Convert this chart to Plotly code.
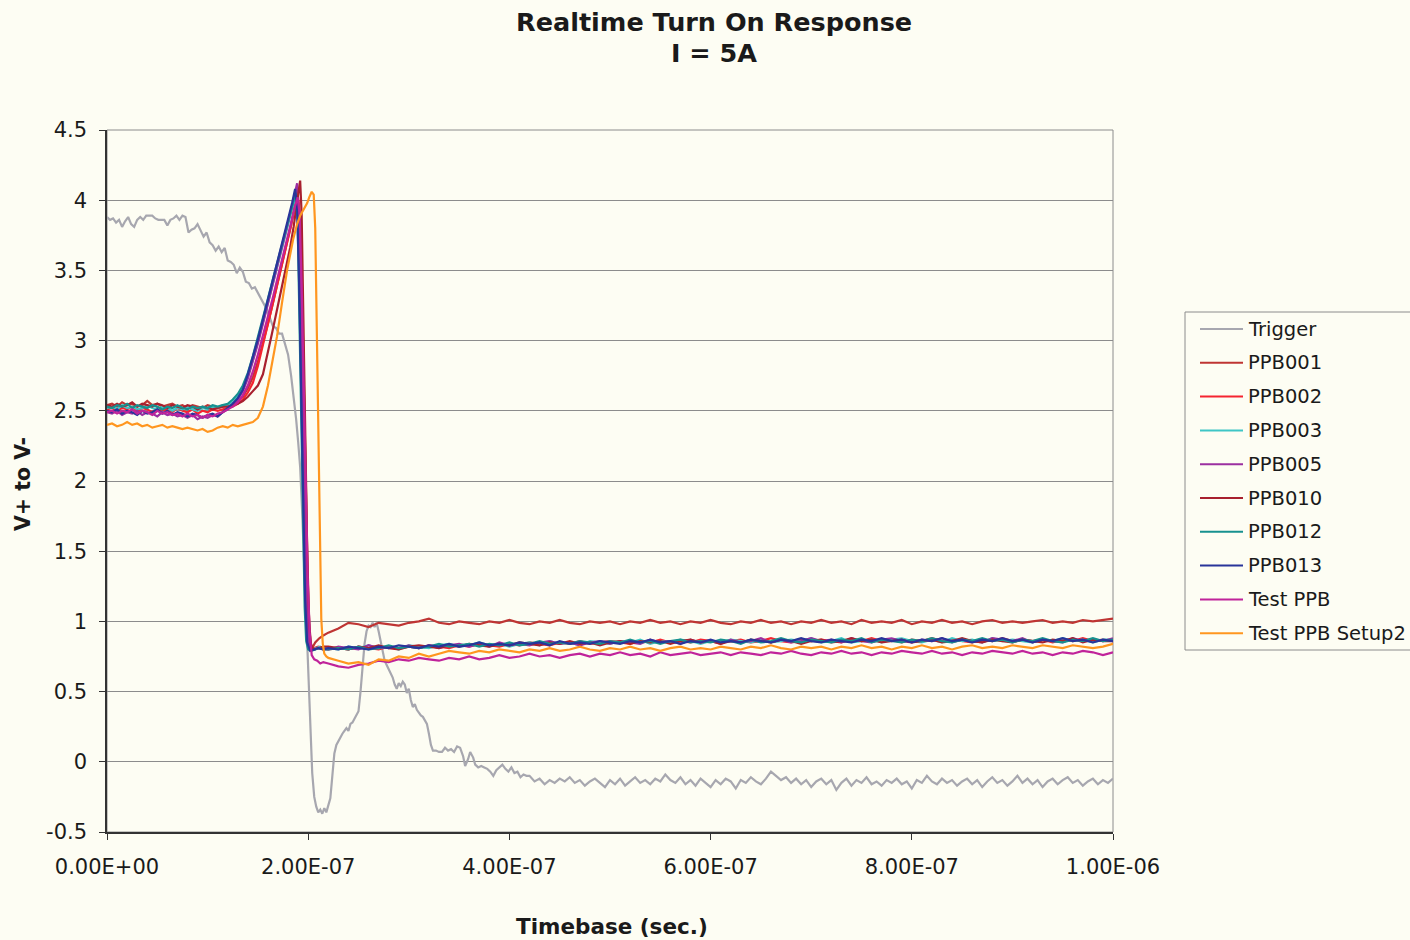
import plotly.graph_objects as go

# ---------------- data (time in ns, voltage in V) ----------------
# common sampling grids
t_base = list(range(0, 121, 5))          # flat level before turn-on
t_tail = list(range(220, 1001, 10))      # settled level after turn-on

# Trigger channel
trigger_t = [0, 3, 6, 9, 12, 15, 18, 21, 24, 27, 30, 33, 36, 39, 42, 45, 48, 51, 54, 57,
             60, 63, 66, 69, 72, 75, 78, 81, 84, 87, 90, 93, 96, 99, 102, 105, 108, 111, 114, 117,
             120, 123, 126, 129, 132, 135, 138, 141, 144, 147, 150, 153, 156, 159, 162, 165, 168, 171, 174, 177,
             180, 183, 186, 188, 190, 192, 194, 196, 198, 200, 202, 204, 206, 208, 210, 212, 214, 216, 218, 220,
             222, 224, 226, 228, 230, 232, 234, 236, 238, 240, 242, 244, 246, 248, 250, 252, 254, 256, 258, 260,
             262, 264, 266, 268, 270, 272, 274, 276, 278, 280, 282, 284, 286, 288, 290, 292, 294, 296, 298, 300,
             302, 304, 306, 308, 310, 312, 314, 316, 318, 320, 322, 324, 327, 330, 333, 336, 339, 342, 345, 348,
             351, 354, 356, 359, 361, 364, 366, 369, 372, 375, 378, 381, 384, 387, 390, 393, 396, 399, 402, 405,
             408, 411, 414, 417]
trigger_v = [3.88, 3.86, 3.87, 3.84, 3.86, 3.81, 3.85, 3.88, 3.83, 3.81, 3.86, 3.88, 3.86, 3.89, 3.89, 3.89, 3.87, 3.86, 3.86, 3.86,
             3.82, 3.86, 3.87, 3.89, 3.86, 3.89, 3.88, 3.77, 3.79, 3.80, 3.83, 3.79, 3.74, 3.77, 3.70, 3.68, 3.64, 3.67, 3.63, 3.66,
             3.57, 3.56, 3.54, 3.48, 3.52, 3.49, 3.42, 3.41, 3.37, 3.38, 3.34, 3.31, 3.27, 3.22, 3.16, 3.10, 3.09, 3.05, 3.05, 2.98,
             2.90, 2.75, 2.58, 2.44, 2.28, 2.10, 1.78, 1.40, 1.00, 0.62, 0.25, -0.08, -0.25, -0.32, -0.36, -0.34, -0.37, -0.33, -0.36, -0.31,
             -0.26, -0.10, 0.06, 0.12, 0.15, 0.17, 0.20, 0.22, 0.24, 0.22, 0.27, 0.28, 0.31, 0.34, 0.36, 0.50, 0.70, 0.84, 0.93, 0.97,
             0.96, 0.99, 0.96, 0.99, 0.93, 0.86, 0.78, 0.72, 0.69, 0.66, 0.62, 0.60, 0.55, 0.52, 0.56, 0.54, 0.57, 0.55, 0.49, 0.52,
             0.44, 0.39, 0.41, 0.37, 0.35, 0.33, 0.32, 0.29, 0.27, 0.20, 0.12, 0.08, 0.08, 0.07, 0.07, 0.10, 0.08, 0.09, 0.07, 0.11,
             0.10, 0.04, -0.03, 0.02, 0.07, 0.03, -0.02, -0.04, -0.03, -0.04, -0.05, -0.07, -0.10, -0.06, -0.04, -0.02, -0.05, -0.07, -0.04, -0.08,
             -0.07, -0.11, -0.09, -0.10]
trigger_tail_t = list(range(420, 1001, 5))
trigger_tail_v = [-0.10, -0.14, -0.12, -0.16, -0.13, -0.15, -0.12, -0.14, -0.11, -0.15, -0.13, -0.17,
                  -0.14, -0.12, -0.15, -0.18, -0.13, -0.16, -0.12, -0.17, -0.14, -0.11, -0.15, -0.13,
                  -0.16, -0.12, -0.14, -0.09, -0.13, -0.15, -0.11, -0.16, -0.13, -0.17, -0.12, -0.15,
                  -0.18, -0.13, -0.16, -0.12, -0.14, -0.19, -0.13, -0.15, -0.11, -0.14, -0.16, -0.12,
                  -0.07, -0.10, -0.13, -0.11, -0.15, -0.12, -0.16, -0.13, -0.18, -0.14, -0.12, -0.16,
                  -0.13, -0.20, -0.15, -0.12, -0.17, -0.13, -0.15, -0.11, -0.16, -0.14, -0.17, -0.13,
                  -0.15, -0.12, -0.16, -0.14, -0.19, -0.13, -0.15, -0.10, -0.14, -0.16, -0.12, -0.15,
                  -0.13, -0.17, -0.14, -0.12, -0.16, -0.13, -0.18, -0.14, -0.11, -0.15, -0.13, -0.17,
                  -0.14, -0.10, -0.15, -0.12, -0.16, -0.13, -0.18, -0.14, -0.12, -0.16, -0.13, -0.11,
                  -0.15, -0.13, -0.17, -0.14, -0.12, -0.16, -0.13, -0.15, -0.12]

# PPB001
ppb001_base = [2.54, 2.55, 2.53, 2.56, 2.54, 2.55, 2.53, 2.54, 2.57, 2.54, 2.55, 2.53, 2.54,
               2.55, 2.53, 2.54, 2.52, 2.54, 2.53, 2.52, 2.54, 2.53, 2.52, 2.53, 2.54]
ppb001_edge_t = [125, 130, 135, 140, 145, 150, 155, 160, 165, 170, 175, 180, 184, 187, 190, 192,
                 194, 196, 198, 200, 202, 204, 207, 211, 215]
ppb001_edge_v = [2.55, 2.57, 2.60, 2.66, 2.74, 2.85, 2.98, 3.12, 3.27, 3.42, 3.57, 3.74, 3.86, 3.95, 4.00, 3.85,
                 3.30, 2.55, 1.80, 1.15, 0.86, 0.81, 0.85, 0.88, 0.90]
ppb001_tail = [0.92, 0.95, 0.99, 0.98, 0.96, 0.99, 0.98, 0.97, 0.99, 1.00,
               1.02, 0.99, 0.98, 1.00, 0.99, 0.98, 1.00, 0.99, 1.01, 0.99,
               0.98, 1.00, 0.99, 1.01, 0.99, 0.98, 1.00, 0.99, 1.00, 0.98,
               1.00, 0.99, 1.01, 0.99, 1.00, 0.98, 1.00, 0.99, 1.01, 0.99,
               0.98, 1.00, 0.99, 1.01, 0.99, 1.00, 0.98, 1.00, 0.99, 1.01,
               0.99, 1.00, 0.98, 1.01, 0.99, 1.00, 0.99, 1.01, 0.98, 1.00,
               0.99, 1.01, 0.99, 1.00, 0.98, 1.00, 1.01, 0.99, 1.00, 0.99,
               1.00, 1.01, 0.99, 1.00, 0.99, 1.01, 1.00, 1.01, 1.02]

# PPB002
ppb002_base = [2.51, 2.52, 2.50, 2.52, 2.51, 2.53, 2.50, 2.52, 2.51, 2.49, 2.52, 2.50, 2.51,
               2.49, 2.52, 2.50, 2.49, 2.51, 2.48, 2.50, 2.49, 2.51, 2.50, 2.51, 2.52]
ppb002_edge_t = [125, 130, 135, 140, 145, 150, 155, 160, 165, 170, 175, 180, 183, 186, 189, 191,
                 193, 195, 197, 199, 201, 203, 206, 210, 215]
ppb002_edge_v = [2.53, 2.55, 2.58, 2.63, 2.70, 2.82, 2.98, 3.12, 3.27, 3.42, 3.57, 3.72, 3.82, 3.95, 4.08, 3.95,
                 3.40, 2.65, 1.85, 1.20, 0.86, 0.80, 0.81, 0.82, 0.81]
ppb002_tail = [0.80, 0.81, 0.80, 0.82, 0.81, 0.80, 0.82, 0.81, 0.82, 0.81,
               0.83, 0.82, 0.81, 0.83, 0.82, 0.84, 0.83, 0.82, 0.84, 0.83,
               0.85, 0.84, 0.83, 0.85, 0.84, 0.86, 0.84, 0.85, 0.86, 0.85,
               0.84, 0.86, 0.85, 0.87, 0.85, 0.86, 0.85, 0.87, 0.86, 0.85,
               0.86, 0.87, 0.85, 0.86, 0.88, 0.86, 0.85, 0.87, 0.86, 0.87,
               0.86, 0.85, 0.87, 0.86, 0.88, 0.86, 0.87, 0.85, 0.87, 0.86,
               0.88, 0.86, 0.87, 0.86, 0.85, 0.87, 0.86, 0.88, 0.86, 0.87,
               0.86, 0.87, 0.85, 0.87, 0.86, 0.88, 0.86, 0.87, 0.86]

# PPB003
ppb003_base = [2.52, 2.53, 2.51, 2.54, 2.52, 2.53, 2.51, 2.52, 2.54, 2.52, 2.51, 2.53, 2.52,
               2.50, 2.52, 2.51, 2.53, 2.51, 2.50, 2.52, 2.51, 2.53, 2.52, 2.54, 2.54]
ppb003_edge_t = [125, 130, 135, 140, 145, 150, 155, 160, 165, 170, 175, 180, 184, 188, 190, 192,
                 194, 196, 197.5, 199, 201, 204, 208, 212, 215]
ppb003_edge_v = [2.56, 2.60, 2.66, 2.75, 2.86, 2.99, 3.13, 3.27, 3.41, 3.55, 3.69, 3.83, 3.94, 4.03, 3.90, 3.30,
                 2.50, 1.70, 1.15, 0.88, 0.81, 0.80, 0.81, 0.82, 0.81]
ppb003_tail = [0.81, 0.80, 0.82, 0.81, 0.83, 0.81, 0.82, 0.80, 0.83, 0.82,
               0.81, 0.83, 0.84, 0.82, 0.83, 0.85, 0.83, 0.84, 0.82, 0.84,
               0.85, 0.83, 0.86, 0.84, 0.85, 0.83, 0.86, 0.85, 0.84, 0.86,
               0.85, 0.87, 0.84, 0.86, 0.85, 0.87, 0.86, 0.84, 0.86, 0.85,
               0.87, 0.86, 0.85, 0.87, 0.85, 0.86, 0.87, 0.86, 0.88, 0.85,
               0.86, 0.88, 0.85, 0.86, 0.87, 0.85, 0.87, 0.88, 0.86, 0.85,
               0.87, 0.85, 0.88, 0.86, 0.87, 0.85, 0.88, 0.86, 0.87, 0.86,
               0.85, 0.87, 0.86, 0.88, 0.86, 0.87, 0.85, 0.87, 0.87]

# PPB005
ppb005_base = [2.49, 2.48, 2.50, 2.47, 2.49, 2.48, 2.50, 2.47, 2.49, 2.48, 2.46, 2.49, 2.47,
               2.48, 2.46, 2.47, 2.45, 2.47, 2.44, 2.46, 2.45, 2.47, 2.46, 2.49, 2.51]
ppb005_edge_t = [125, 130, 135, 140, 145, 150, 155, 160, 165, 170, 175, 180, 184, 187, 189, 191,
                 193, 195, 197, 199, 201, 203, 206, 210, 215]
ppb005_edge_v = [2.55, 2.58, 2.64, 2.73, 2.85, 2.98, 3.12, 3.26, 3.40, 3.55, 3.69, 3.84, 3.96, 4.06, 4.12, 3.85,
                 3.10, 2.25, 1.50, 1.00, 0.84, 0.80, 0.80, 0.81, 0.80]
ppb005_tail = [0.80, 0.82, 0.81, 0.80, 0.83, 0.81, 0.82, 0.81, 0.83, 0.81,
               0.83, 0.81, 0.83, 0.84, 0.82, 0.84, 0.82, 0.85, 0.83, 0.84,
               0.83, 0.85, 0.86, 0.84, 0.85, 0.83, 0.85, 0.86, 0.84, 0.86,
               0.85, 0.84, 0.87, 0.85, 0.86, 0.84, 0.87, 0.85, 0.86, 0.84,
               0.87, 0.85, 0.86, 0.88, 0.85, 0.87, 0.85, 0.86, 0.88, 0.86,
               0.87, 0.85, 0.88, 0.86, 0.85, 0.87, 0.88, 0.86, 0.85, 0.87,
               0.86, 0.88, 0.85, 0.87, 0.86, 0.85, 0.88, 0.87, 0.86, 0.88,
               0.85, 0.87, 0.86, 0.85, 0.88, 0.86, 0.87, 0.86, 0.88]

# PPB010
ppb010_base = [2.54, 2.53, 2.55, 2.53, 2.54, 2.56, 2.53, 2.55, 2.54, 2.53, 2.55, 2.54, 2.52,
               2.54, 2.53, 2.52, 2.54, 2.53, 2.51, 2.53, 2.52, 2.51, 2.52, 2.53, 2.53]
ppb010_edge_t = [125, 130, 135, 140, 145, 150, 155, 159, 164, 169, 174, 179, 182, 185.5, 188, 190.5,
                 192, 193.5, 195, 197, 199, 201, 203, 206, 210, 215]
ppb010_edge_v = [2.54, 2.55, 2.57, 2.60, 2.64, 2.68, 2.76, 2.88, 3.05, 3.22, 3.39, 3.55, 3.66, 3.81, 3.95, 4.07,
                 4.14, 3.90, 3.20, 2.30, 1.50, 0.98, 0.82, 0.80, 0.81, 0.82]
ppb010_tail = [0.82, 0.81, 0.80, 0.82, 0.81, 0.83, 0.81, 0.80, 0.82, 0.83,
               0.82, 0.81, 0.83, 0.82, 0.84, 0.83, 0.82, 0.84, 0.83, 0.85,
               0.84, 0.83, 0.85, 0.84, 0.86, 0.84, 0.85, 0.83, 0.85, 0.86,
               0.84, 0.86, 0.85, 0.86, 0.84, 0.86, 0.87, 0.85, 0.86, 0.84,
               0.86, 0.85, 0.87, 0.86, 0.85, 0.87, 0.86, 0.84, 0.86, 0.87,
               0.85, 0.86, 0.88, 0.86, 0.87, 0.85, 0.86, 0.87, 0.85, 0.86,
               0.87, 0.85, 0.86, 0.88, 0.86, 0.85, 0.87, 0.86, 0.85, 0.87,
               0.86, 0.85, 0.87, 0.86, 0.88, 0.85, 0.87, 0.86, 0.86]

# PPB012
ppb012_base = [2.53, 2.52, 2.54, 2.53, 2.55, 2.52, 2.54, 2.53, 2.52, 2.54, 2.53, 2.51, 2.53,
               2.52, 2.54, 2.52, 2.51, 2.53, 2.52, 2.53, 2.52, 2.54, 2.53, 2.54, 2.55]
ppb012_edge_t = [125, 130, 135, 140, 145, 150, 155, 160, 165, 170, 175, 180, 184, 187.5, 189.5, 191.5,
                 193.5, 195, 196.5, 198, 200, 203, 207, 211, 215]
ppb012_edge_v = [2.58, 2.62, 2.68, 2.77, 2.89, 3.02, 3.16, 3.30, 3.44, 3.58, 3.72, 3.86, 3.96, 4.05, 3.85, 3.15,
                 2.35, 1.70, 1.10, 0.86, 0.80, 0.79, 0.80, 0.81, 0.80]
ppb012_tail = [0.80, 0.81, 0.80, 0.82, 0.80, 0.81, 0.83, 0.81, 0.82, 0.81,
               0.82, 0.84, 0.82, 0.83, 0.84, 0.82, 0.84, 0.83, 0.85, 0.83,
               0.84, 0.86, 0.84, 0.85, 0.84, 0.86, 0.85, 0.84, 0.86, 0.85,
               0.87, 0.85, 0.86, 0.84, 0.86, 0.87, 0.85, 0.86, 0.85, 0.87,
               0.86, 0.84, 0.87, 0.85, 0.86, 0.88, 0.86, 0.85, 0.87, 0.86,
               0.85, 0.87, 0.86, 0.88, 0.85, 0.87, 0.86, 0.85, 0.87, 0.86,
               0.88, 0.86, 0.85, 0.87, 0.86, 0.88, 0.86, 0.87, 0.85, 0.87,
               0.86, 0.88, 0.86, 0.85, 0.87, 0.86, 0.88, 0.86, 0.87]

# PPB013
ppb013_base = [2.50, 2.49, 2.51, 2.48, 2.50, 2.49, 2.47, 2.50, 2.48, 2.49, 2.51, 2.48, 2.50,
               2.47, 2.49, 2.48, 2.46, 2.48, 2.47, 2.45, 2.47, 2.48, 2.46, 2.49, 2.52]
ppb013_edge_t = [125, 130, 135, 140, 145, 150, 155, 160, 165, 170, 175, 180, 184, 187, 189, 191,
                 193, 195, 197, 199, 202, 206, 210, 215]
ppb013_edge_v = [2.55, 2.59, 2.65, 2.76, 2.88, 3.01, 3.15, 3.29, 3.43, 3.58, 3.72, 3.87, 3.98, 4.08, 3.95, 3.40,
                 2.60, 1.80, 1.15, 0.85, 0.79, 0.80, 0.81, 0.80]
ppb013_tail = [0.81, 0.80, 0.82, 0.81, 0.80, 0.82, 0.81, 0.83, 0.82, 0.81,
               0.83, 0.82, 0.84, 0.82, 0.83, 0.85, 0.83, 0.84, 0.83, 0.85,
               0.84, 0.85, 0.83, 0.86, 0.84, 0.85, 0.84, 0.86, 0.85, 0.84,
               0.86, 0.85, 0.87, 0.85, 0.86, 0.84, 0.86, 0.85, 0.87, 0.85,
               0.86, 0.85, 0.87, 0.86, 0.85, 0.87, 0.86, 0.88, 0.86, 0.85,
               0.87, 0.86, 0.85, 0.87, 0.86, 0.88, 0.86, 0.87, 0.85, 0.87,
               0.86, 0.88, 0.86, 0.87, 0.85, 0.87, 0.86, 0.88, 0.86, 0.87,
               0.85, 0.87, 0.86, 0.88, 0.86, 0.87, 0.85, 0.87, 0.86]

# Test PPB
test_base = [2.49, 2.50, 2.48, 2.50, 2.49, 2.51, 2.48, 2.50, 2.49, 2.47, 2.50, 2.48, 2.49,
             2.47, 2.48, 2.46, 2.48, 2.46, 2.47, 2.45, 2.47, 2.46, 2.48, 2.49, 2.51]
test_edge_t = [125, 130, 135, 140, 145, 150, 155, 160, 165, 170, 175, 180, 184, 187, 189.5, 191.5,
               193.5, 195.5, 197.5, 199.5, 201.5, 203.5, 206, 209, 212, 215]
test_edge_v = [2.53, 2.56, 2.61, 2.68, 2.78, 2.90, 3.03, 3.17, 3.31, 3.46, 3.60, 3.75, 3.87, 3.96, 4.02, 3.90,
               3.40, 2.70, 1.95, 1.30, 0.92, 0.76, 0.73, 0.72, 0.70, 0.71]
test_tail = [0.70, 0.68, 0.67, 0.69, 0.70, 0.72, 0.71, 0.73, 0.72, 0.74,
             0.73, 0.72, 0.74, 0.73, 0.75, 0.73, 0.74, 0.76, 0.74, 0.75,
             0.77, 0.75, 0.76, 0.74, 0.76, 0.77, 0.75, 0.77, 0.76, 0.78,
             0.76, 0.77, 0.75, 0.78, 0.76, 0.77, 0.78, 0.76, 0.77, 0.78,
             0.76, 0.78, 0.77, 0.76, 0.78, 0.77, 0.79, 0.77, 0.76, 0.78,
             0.77, 0.79, 0.77, 0.78, 0.76, 0.78, 0.77, 0.79, 0.78, 0.77,
             0.79, 0.77, 0.78, 0.76, 0.78, 0.77, 0.79, 0.78, 0.77, 0.79,
             0.77, 0.78, 0.76, 0.78, 0.77, 0.79, 0.78, 0.76, 0.78]

# Test PPB Setup2
setup2_base_t = list(range(0, 146, 5))
setup2_base = [2.40, 2.41, 2.39, 2.40, 2.42, 2.40, 2.41, 2.39, 2.40, 2.38, 2.39, 2.40, 2.38, 2.39, 2.38,
               2.37, 2.38, 2.37, 2.36, 2.37, 2.35, 2.36, 2.38, 2.39, 2.38, 2.40, 2.39, 2.40, 2.41, 2.42]
setup2_edge_t = [150, 155, 160, 165, 169, 174, 179, 185, 189, 192, 196, 199, 201, 203.5, 205.5, 207,
                 208.5, 210, 211.5, 213, 214.5, 216, 218]
setup2_edge_v = [2.45, 2.53, 2.68, 2.86, 3.03, 3.27, 3.50, 3.72, 3.83, 3.89, 3.94, 3.98, 4.02, 4.06, 4.04, 3.80,
                 3.10, 2.30, 1.55, 1.02, 0.84, 0.77, 0.75]
setup2_tail = [0.74, 0.72, 0.70, 0.71, 0.69, 0.73, 0.72, 0.75, 0.74, 0.77,
               0.75, 0.77, 0.79, 0.78, 0.77, 0.79, 0.78, 0.80, 0.79, 0.78,
               0.80, 0.79, 0.81, 0.79, 0.80, 0.82, 0.80, 0.79, 0.81, 0.80,
               0.82, 0.80, 0.81, 0.79, 0.81, 0.82, 0.80, 0.81, 0.80, 0.82,
               0.81, 0.80, 0.82, 0.81, 0.83, 0.81, 0.80, 0.82, 0.81, 0.82,
               0.80, 0.82, 0.81, 0.83, 0.81, 0.82, 0.80, 0.82, 0.81, 0.83,
               0.81, 0.82, 0.80, 0.82, 0.83, 0.81, 0.82, 0.81, 0.83, 0.82,
               0.81, 0.83, 0.82, 0.81, 0.83, 0.82, 0.81, 0.82, 0.84]

x_tick_vals = [0, 200, 400, 600, 800, 1000]
x_tick_text = ["0.00E+00", "2.00E-07", "4.00E-07", "6.00E-07", "8.00E-07", "1.00E-06"]
y_tick_vals = [-0.5, 0, 0.5, 1, 1.5, 2, 2.5, 3, 3.5, 4, 4.5]
y_tick_text = ["-0.5", "0", "0.5", "1", "1.5", "2", "2.5", "3", "3.5", "4", "4.5"]

# ---------------- assemble traces ----------------
series = [
    ("Trigger", "#A7A7AF", trigger_t + trigger_tail_t, trigger_v + trigger_tail_v),
    ("PPB001", "#BF3533", t_base + ppb001_edge_t + t_tail, ppb001_base + ppb001_edge_v + ppb001_tail),
    ("PPB002", "#F52430", t_base + ppb002_edge_t + t_tail, ppb002_base + ppb002_edge_v + ppb002_tail),
    ("PPB003", "#3EC6C6", t_base + ppb003_edge_t + t_tail, ppb003_base + ppb003_edge_v + ppb003_tail),
    ("PPB005", "#9B2FA0", t_base + ppb005_edge_t + t_tail, ppb005_base + ppb005_edge_v + ppb005_tail),
    ("PPB010", "#A8202E", t_base + ppb010_edge_t + t_tail, ppb010_base + ppb010_edge_v + ppb010_tail),
    ("PPB012", "#17918F", t_base + ppb012_edge_t + t_tail, ppb012_base + ppb012_edge_v + ppb012_tail),
    ("PPB013", "#29349A", t_base + ppb013_edge_t + t_tail, ppb013_base + ppb013_edge_v + ppb013_tail),
    ("Test PPB", "#C0239A", t_base + test_edge_t + t_tail, test_base + test_edge_v + test_tail),
    ("Test PPB Setup2", "#FF961F", setup2_base_t + setup2_edge_t + t_tail, setup2_base + setup2_edge_v + setup2_tail),
]

BG = "#FDFDF3"
FONT = "DejaVu Sans"
TEXT = "#1a1a1a"

# plot area in page pixels: x 107..1113, y 130..832
L, R, T, B = 107, 1113, 130, 832


def px_x(px):
    return (px - L) / (R - L)


def px_y(py):
    return (B - py) / (B - T)


fig = go.Figure()
for name, color, t_ns, v in series:
    assert len(t_ns) == len(v), name
    fig.add_trace(go.Scatter(
        x=[t * 1e-9 for t in t_ns], y=v, name=name,
        mode="lines", line=dict(color=color, width=2.2), showlegend=False,
    ))

# legend box drawn as shapes + labels
shapes = [
    dict(type="rect", xref="paper", yref="paper", x0=0, x1=1, y0=0, y1=1,
         line=dict(color="#8c8c8c", width=1), layer="below"),
    dict(type="rect", xref="paper", yref="paper",
         x0=px_x(1185), x1=px_x(1420), y0=px_y(650), y1=px_y(312),
         line=dict(color="#8c8c8c", width=1), fillcolor=BG, layer="above"),
]
annotations = []
for i, (name, color, _, _) in enumerate(series):
    yc = 329 + i * 33.8
    shapes.append(dict(type="line", xref="paper", yref="paper",
                       x0=px_x(1200), x1=px_x(1243), y0=px_y(yc), y1=px_y(yc),
                       line=dict(color=color, width=2)))
    annotations.append(dict(text=name, xref="paper", yref="paper",
                            x=px_x(1246), y=px_y(yc), xanchor="left", yanchor="middle",
                            showarrow=False, font=dict(family=FONT, size=19.5, color=TEXT)))

annotations += [
    dict(text="<b>Realtime Turn On Response</b>", xref="paper", yref="paper",
         x=px_x(714), y=px_y(22), xanchor="center", yanchor="middle", showarrow=False,
         font=dict(family=FONT, size=25.5, color=TEXT)),
    dict(text="<b>I = 5A</b>", xref="paper", yref="paper",
         x=px_x(714), y=px_y(53), xanchor="center", yanchor="middle", showarrow=False,
         font=dict(family=FONT, size=25.5, color=TEXT)),
    dict(text="<b>Timebase (sec.)</b>", xref="paper", yref="paper",
         x=px_x(612), y=px_y(926), xanchor="center", yanchor="middle", showarrow=False,
         font=dict(family=FONT, size=21.5, color=TEXT)),
    dict(text="<b>V+ to V-</b>", xref="paper", yref="paper",
         x=px_x(23), y=px_y(484), xanchor="center", yanchor="middle", showarrow=False,
         textangle=-90, font=dict(family=FONT, size=20.5, color=TEXT)),
]

fig.update_layout(
    width=1410, height=940,
    margin=dict(l=L, r=1410 - R, t=T, b=940 - B),
    paper_bgcolor=BG, plot_bgcolor=BG,
    font=dict(family=FONT, color=TEXT, size=19),
    showlegend=False,
    xaxis=dict(
        range=[0, 1e-6], tickmode="array",
        tickvals=[v * 1e-9 for v in x_tick_vals], ticktext=x_tick_text,
        showgrid=False, zeroline=False,
        showline=True, linecolor="#333333", linewidth=1.5,
        ticks="outside", ticklen=6, tickcolor="#333333", ticklabelstandoff=9,
        tickfont=dict(family=FONT, size=21, color=TEXT),
    ),
    yaxis=dict(
        range=[-0.5, 4.5], tickmode="array",
        tickvals=y_tick_vals, ticktext=y_tick_text,
        showgrid=True, gridcolor="#8c8c8c", gridwidth=1, zeroline=False,
        showline=True, linecolor="#333333", linewidth=1.5,
        ticks="outside", ticklen=6, tickcolor="#333333", ticklabelstandoff=8,
        tickfont=dict(family=FONT, size=21, color=TEXT),
    ),
    shapes=shapes,
    annotations=annotations,
)

fig.write_html("out.html")
